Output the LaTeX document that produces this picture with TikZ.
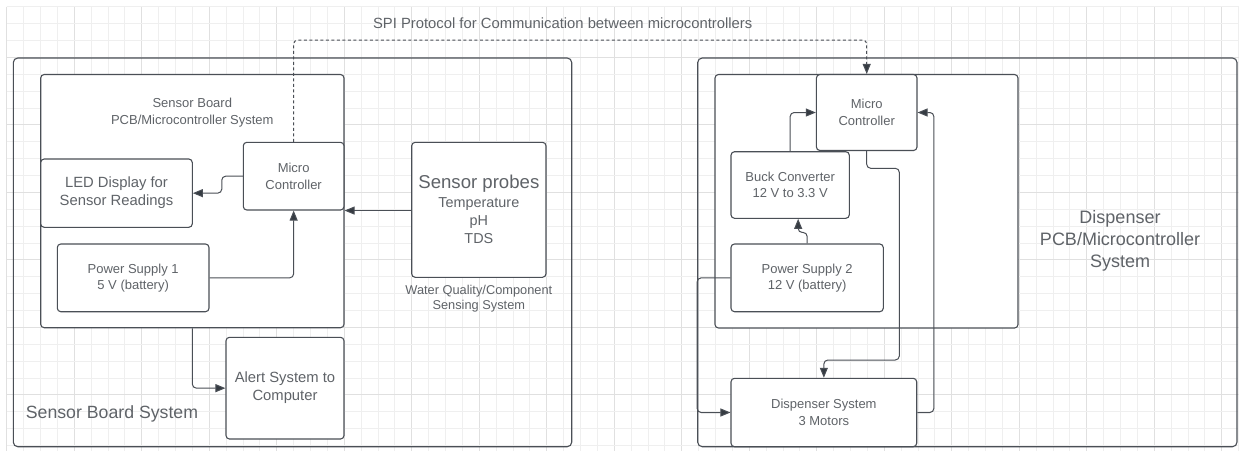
\documentclass[tikz,border=0pt]{standalone}
\usepackage{fontspec}
\setmainfont{Liberation Sans}
\usetikzlibrary{arrows.meta,calc}
\definecolor{linec}{HTML}{4A4F56}
\definecolor{txtc}{HTML}{5F6368}
\definecolor{arrc}{HTML}{353B42}
\definecolor{gridm}{HTML}{EFEFEF}
\definecolor{gridM}{HTML}{E0E0E0}
\newcommand\fsS{\fontsize{13}{16.4}\selectfont}
\newcommand\fsM{\fontsize{14.8}{18}\selectfont}
\newcommand\fsT{\fontsize{14.8}{18}\selectfont}
\newcommand\fsL{\fontsize{17.7}{21}\selectfont}
\newcommand\fsD{\fontsize{18}{22.2}\selectfont}
\newcommand\fsP{\fontsize{18.6}{22}\selectfont}
\newcommand\fsQ{\fontsize{14.4}{18}\selectfont}
\newcommand\fsW{\fontsize{12.8}{15.3}\selectfont}
\begin{document}
\begin{tikzpicture}[x=1pt,y=-1pt,
 box/.style={draw=linec, line width=1.1pt, rounded corners=3.5pt, fill=white, inner sep=0pt, align=center, text=txtc},
 frame/.style={draw=linec, line width=1.1pt, rounded corners=4.5pt, inner sep=0pt},
 conn/.style={draw=linec, line width=1pt, rounded corners=4pt, -{Triangle[length=10pt,width=8pt,fill=arrc]}},
 lbl/.style={text=txtc, inner sep=0pt, align=center}]
\useasboundingbox (0,0) rectangle (1239,451);
\fill[white] (0,0) rectangle (1239,451);
% grid
\foreach \k in {0,...,73}{%
  \pgfmathtruncatemacro\m{mod(\k,4)}%
  \ifnum\m=0\relax\def\gc{gridM}\else\def\gc{gridm}\fi
  \draw[draw=\gc,line width=0.9pt] ({6.7+16.875*\k},6.7) -- ({6.7+16.875*\k},451);}
\foreach \k in {0,...,26}{%
  \pgfmathtruncatemacro\m{mod(\k,4)}%
  \ifnum\m=3\relax\def\gc{gridM}\else\def\gc{gridm}\fi
  \draw[draw=\gc,line width=0.9pt] (6.7,{6.7+16.875*\k}) -- (1239,{6.7+16.875*\k});}
% outer frames
\node[frame, minimum width=558.4pt, minimum height=388.7pt] (lsys) at (292.5,252.35) {};
\node[frame, minimum width=539.3pt, minimum height=388.7pt] (rsys) at (967.35,252.35) {};
% left side
\node[box, minimum width=303.3pt, minimum height=253.2pt] (pcb) at (192.35,201.1) {};
\node[lbl, font=\fsS] (sbt) at (192.3,112.7) {Sensor Board\\PCB/Microcontroller System};
\node[box, minimum width=100.7pt, minimum height=67.7pt, font=\fsS] (lmc) at (293.65,176.15) {Micro\\Controller};
\node[box, minimum width=151.6pt, minimum height=68.3pt, font=\fsM] (led) at (116.5,193.15) {LED Display for\\Sensor Readings};
\node[box, minimum width=151.7pt, minimum height=67.7pt, font=\fsS] (ps1) at (133.15,277.85) {Power Supply 1\\5 V (battery)};
\node[box, minimum width=134.3pt, minimum height=135pt, font=\fsQ] (probes) at (478.85,209.8) {{\fsP Sensor probes}\\[1pt]Temperature\\pH\\TDS};
\node[lbl, font=\fsW] (wqt) at (478.8,299) {Water Quality/Component\\Sensing System};
\node[box, minimum width=118pt, minimum height=101.7pt, font=\fsM] (alert) at (285,388.15) {Alert System to\\Computer};
\node[lbl, font=\fsL, anchor=base west] (sbs) at (25.7,418.3) {Sensor Board System};
% right side
\node[box, minimum width=303pt, minimum height=253.5pt] (rin) at (866.5,201.25) {};
\node[box, minimum width=100.6pt, minimum height=76pt, font=\fsS] (rmc) at (866.7,112.5) {Micro\\Controller};
\node[box, minimum width=118.3pt, minimum height=66.6pt, font=\fsS] (buck) at (790.15,185) {Buck Converter\\12 V to 3.3 V};
\node[box, minimum width=152.3pt, minimum height=67.7pt, font=\fsS] (ps2) at (807.15,277.85) {Power Supply 2\\12 V (battery)};
\node[box, minimum width=185.7pt, minimum height=68.4pt, font=\fsS] (disp) at (823.85,412.5) {Dispenser System\\3 Motors};
\node[lbl, font=\fsD] (dpt) at (1120,240.9) {Dispenser\\PCB/Microcontroller\\System};
% title
\node[lbl, font=\fsT, anchor=base] (spi) at (562.7,28.3) {SPI Protocol for Communication between microcontrollers};
% connectors
\coordinate (ySPI) at (0,40);
\coordinate (c1) at (899.3,168.3);
\coordinate (c2) at (0,360);
\draw[conn, dash pattern=on 3pt off 2.5pt] (lmc.north) |- (rmc.north |- ySPI) -- (rmc.north);
\draw[conn] (lmc.west) -- ++(-21,0) |- (led.east);
\draw[conn] (probes.west |- lmc.south east) -- (lmc.south east);
\draw[conn] (ps1.east) -| (lmc.south);
\draw[conn] (pcb.south) |- (alert.west);
\draw[conn] (buck.north) |- (rmc.west);
\draw[conn] (ps2.north) -- ++(0,-11) -| ([xshift=8pt]buck.south);
\draw[conn] (rmc.south) |- (c1) |- (disp.north |- c2) -- (disp.north);
\draw[conn] (disp.east) -- ++(16.6,0) |- (rmc.east);
\draw[conn] (ps2.west) -- ++(-33.3,0) |- (disp.west);
\end{tikzpicture}
\end{document}
